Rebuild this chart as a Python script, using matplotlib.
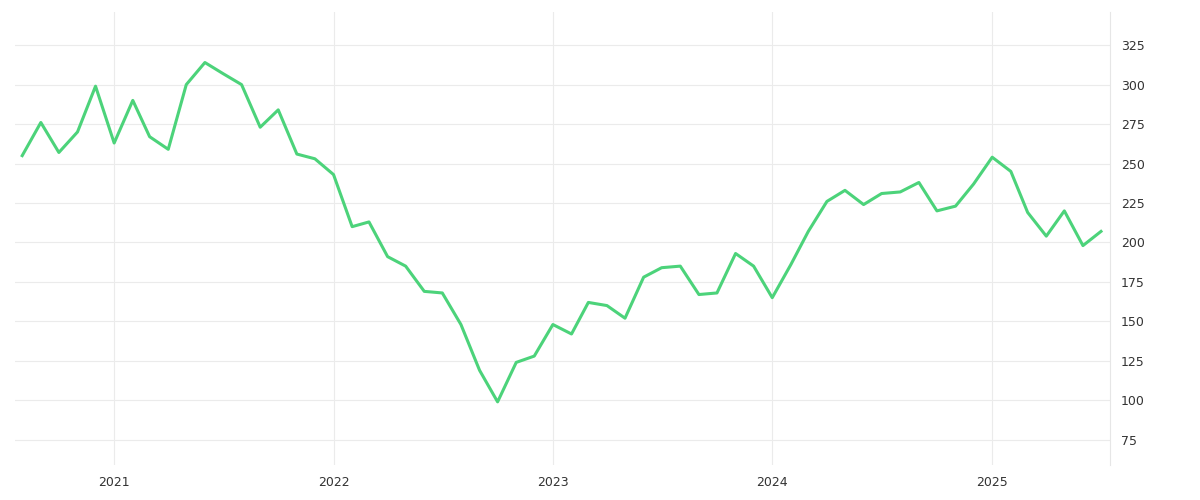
import matplotlib
matplotlib.use("Agg")
import matplotlib.pyplot as plt
import matplotlib.dates as mdates
import pandas as pd

dates = pd.date_range("2020-08-01", "2025-07-01", freq="MS")
values = [255, 276, 257, 270, 299, 263, 290, 267, 259, 300, 314, 307, 300, 273, 284, 256, 253,
          243, 210, 213, 191, 185, 169, 168, 148, 119, 99, 124, 128,
          148, 142, 162, 160, 152, 178, 184, 185, 167, 168, 193, 185,
          165, 186, 207, 226, 233, 224, 231, 232, 238, 220, 223, 237,
          254, 245, 219, 204, 220, 198, 207]
yticks = [75, 100, 125, 150, 175, 200, 225, 250, 275, 300, 325]

fig = plt.figure(figsize=(12, 5), dpi=100)
ax = fig.add_axes([15/1200, 35/500, 1095/1200, 453/500])
ax.plot(dates, values, color="#4cd37a", lw=2.2)
ax.set_ylim(59, 346)
ax.set_xlim(pd.Timestamp("2020-07-20"), pd.Timestamp("2025-07-16"))
ax.yaxis.tick_right()
ax.set_yticks(yticks)
ax.xaxis.set_major_locator(mdates.YearLocator())
ax.xaxis.set_major_formatter(mdates.DateFormatter("%Y"))
ax.grid(True, color="#ebebeb", lw=0.8)
for s in ["top", "left", "bottom"]:
    ax.spines[s].set_visible(False)
ax.spines["right"].set_color("#e6e6e6")
ax.tick_params(length=0, labelsize=9, colors="#333333", pad=8)
fig.savefig("out.png")
